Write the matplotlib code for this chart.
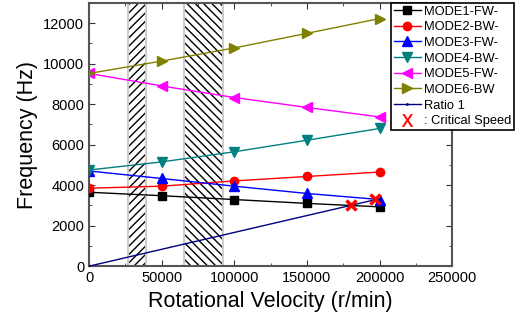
import numpy as np
import matplotlib.pyplot as plt
from matplotlib.ticker import MultipleLocator, AutoMinorLocator

plt.rcParams['font.family'] = ['Liberation Sans', 'DejaVu Sans']
plt.rcParams['hatch.linewidth'] = 1.0

# rotational speed (r/min) and frequencies (Hz)
speed = [0, 50000, 100000, 150000, 200000]
mode1 = [3650, 3480, 3290, 3100, 2930]
mode2 = [3850, 3950, 4210, 4430, 4650]
mode3 = [4700, 4330, 3950, 3590, 3290]
mode4 = [4750, 5150, 5650, 6220, 6800]
mode5 = [9520, 8900, 8330, 7840, 7370]
mode6 = [9520, 10130, 10780, 11500, 12230]
ratio_speed = [0, 200000]
ratio_freq = [0, 3333]
crit_speed = [180000, 197000]
crit_freq = [3000, 3300]
bands = [(27000, 39500), (65000, 92000)]

fig = plt.figure(figsize=(5.21, 3.29), dpi=100)
ax = fig.add_axes([0.171, 0.191, 0.697, 0.8])

# hatched speed bands
ax.axvspan(bands[0][0], bands[0][1], facecolor='white', edgecolor='black',
           hatch='////', linewidth=0, zorder=1)
ax.axvspan(bands[1][0], bands[1][1], facecolor='white', edgecolor='black',
           hatch='\\\\\\\\', linewidth=0, zorder=1)
for b in bands:
    for xv in b:
        ax.axvline(xv, color='#cccccc', lw=1.5, zorder=1.5)

ax.plot(speed, mode1, color='black', marker='s', ms=6, lw=1, label='MODE1-FW-', zorder=3)
ax.plot(speed, mode2, color='red', marker='o', ms=6, lw=1, label='MODE2-BW-', zorder=3)
ax.plot(speed, mode3, color='blue', marker='^', ms=6.5, lw=1, label='MODE3-FW-', zorder=3)
ax.plot(speed, mode4, color='#008080', marker='v', ms=6.5, lw=1, label='MODE4-BW-', zorder=3)
ax.plot(speed, mode5, color='magenta', marker='<', ms=6.5, lw=1, label='MODE5-FW-', zorder=3)
ax.plot(speed, mode6, color='#808000', marker='>', ms=6.5, lw=1, label='MODE6-BW', zorder=3)
ax.plot(ratio_speed, ratio_freq, color='navy', marker='.', ms=2, lw=1, label='Ratio 1', zorder=3)
ax.plot(crit_speed, crit_freq, ls='none', marker='x', color='red', ms=7, mew=2.5, zorder=4)
# legend proxy for the critical speed markers
ax.plot([], [], ls='none', marker='$\\mathsf{X}$', color='red', ms=9, mew=0.3,
        label=': Critical Speed')

ax.set_xlim(0, 250000)
ax.set_ylim(0, 13000)
ax.xaxis.set_major_locator(MultipleLocator(50000))
ax.yaxis.set_major_locator(MultipleLocator(2000))
ax.xaxis.set_minor_locator(AutoMinorLocator(2))
ax.yaxis.set_minor_locator(AutoMinorLocator(2))
ax.tick_params(axis='both', direction='in', which='both', top=True, right=True,
               labelsize=10.5, color='#333333')
ax.tick_params(which='major', length=4)
ax.tick_params(which='minor', length=2.5)
for s in ax.spines.values():
    s.set_linewidth(1.5)
    s.set_color('#555555')

ax.set_xlabel('Rotational Velocity (r/min)', fontsize=15.5)
ax.set_ylabel('Frequency (Hz)', fontsize=15.5)

leg = ax.legend(loc='upper left', bbox_to_anchor=(0.832, 1.0), fontsize=9.3,
                frameon=True, fancybox=False, edgecolor='black', framealpha=1,
                borderpad=0.2, labelspacing=0.28, handlelength=2.1, handletextpad=0.25,
                borderaxespad=0)
leg.get_frame().set_linewidth(1.2)
leg.set_zorder(10)

fig.savefig('out.png', dpi=100)
